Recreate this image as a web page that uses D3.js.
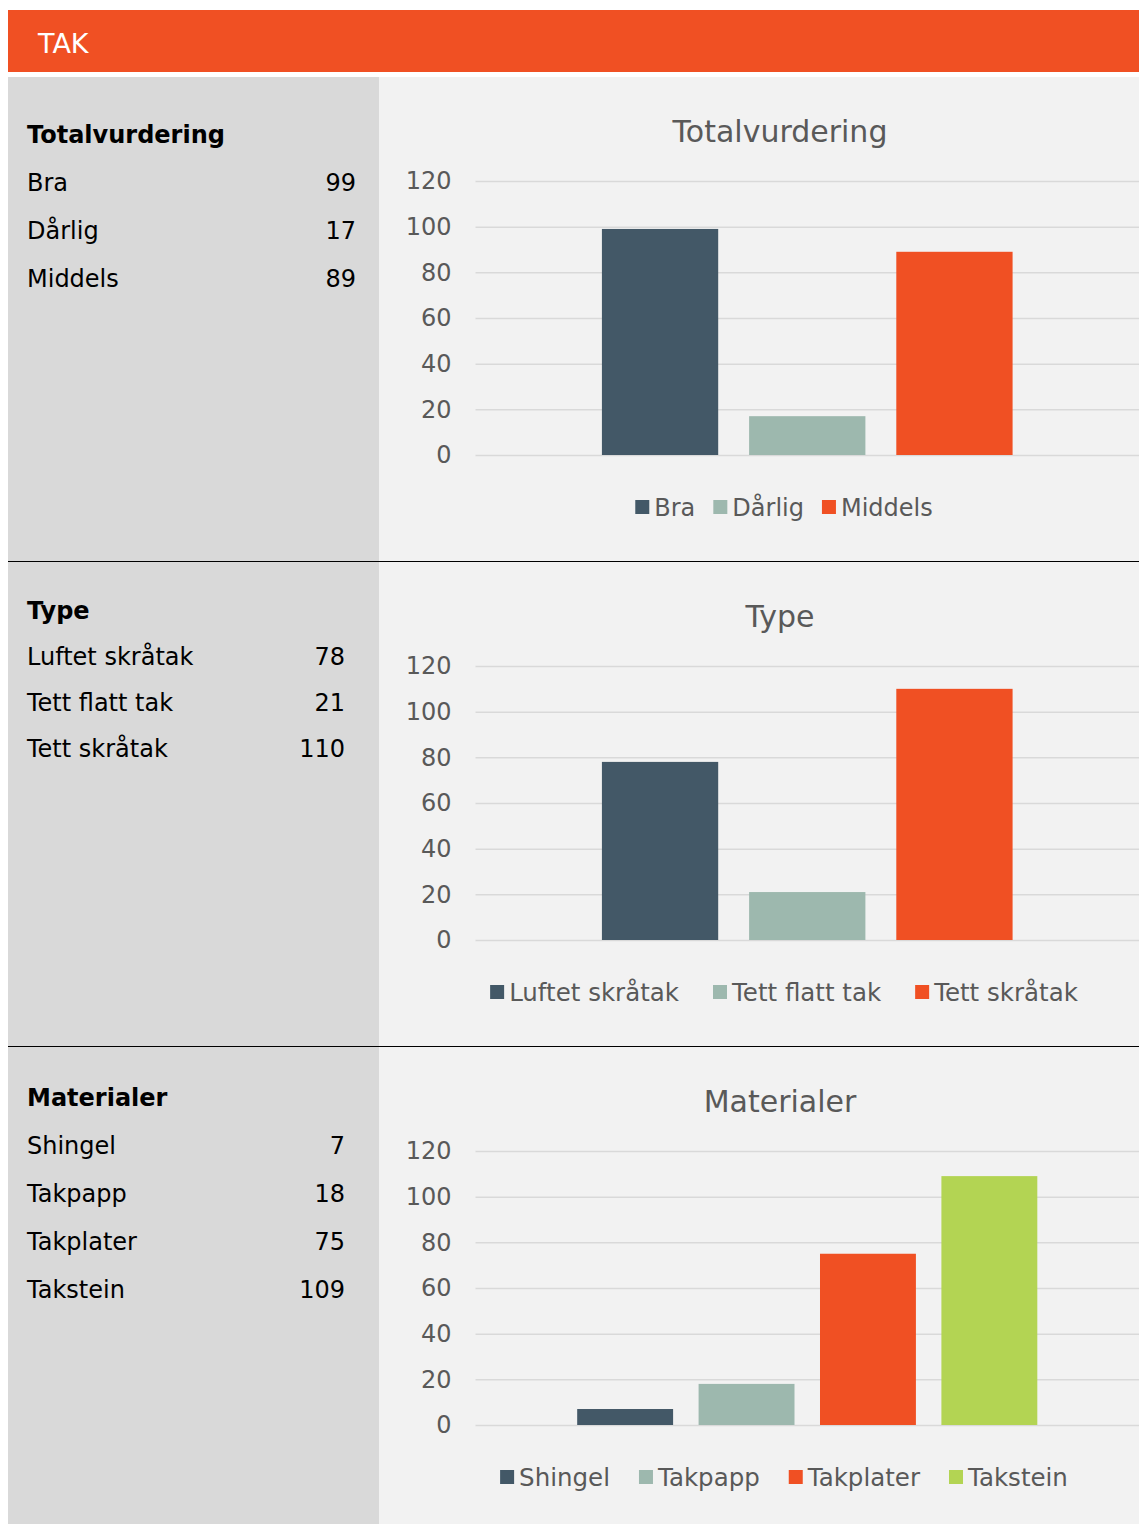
<!DOCTYPE html>
<html>
<head>
<meta charset="utf-8">
<script src="https://cdn.jsdelivr.net/npm/d3@7"></script>
<style>
  html, body { margin: 0; padding: 0; background: #ffffff; }
  svg { display: block; font-family: "DejaVu Sans", Verdana, sans-serif; }
</style>
</head>
<body>
<svg id="chart" width="1139" height="1524"></svg>
<script>
// ---- data ----
const pageTitle = "TAK";
const sectionTitles = ["Totalvurdering", "Type", "Materialer"];
const totalCategories = ["Bra", "Dårlig", "Middels"];
const totalValues = [99, 17, 89];
const typeCategories = ["Luftet skråtak", "Tett flatt tak", "Tett skråtak"];
const typeValues = [78, 21, 110];
const materialCategories = ["Shingel", "Takpapp", "Takplater", "Takstein"];
const materialValues = [7, 18, 75, 109];
const yTickValues = [0, 20, 40, 60, 80, 100, 120];
const seriesColors = ["#435867", "#9db8ae", "#f05023", "#b3d453"];

const sectionsData = [
  { title: sectionTitles[0], cats: totalCategories, vals: totalValues },
  { title: sectionTitles[1], cats: typeCategories, vals: typeValues },
  { title: sectionTitles[2], cats: materialCategories, vals: materialValues }
];

// ---- layout ----
const W = 1139, H = 1524;
const leftX = 8, splitX = 379;
const sectionTops = [76, 561, 1046];
const headBase = [143, 619, 1106];
const rowStep = [48, 46, 48];
const valueRight = [356, 345, 345];
const clusterPad = [0.3078, 0.3078, 0.221];
const legendGap = [18, 34, 29];
const legendFont = [24, 24.5, 24.5];
const plotL = 475.5, plotR = 1139;
const chartCenter = 780;

const svg = d3.select("#chart");

// header
svg.append("rect").attr("x", leftX).attr("y", 10).attr("width", W - leftX).attr("height", 62).attr("fill", "#f05023");
svg.append("text").attr("x", 38).attr("y", 53).attr("fill", "#ffffff").attr("font-size", 27).text(pageTitle);

// panels
svg.append("rect").attr("x", leftX).attr("y", 77).attr("width", splitX - leftX).attr("height", H - 77).attr("fill", "#d9d9d9");
svg.append("rect").attr("x", splitX).attr("y", 77).attr("width", W - splitX).attr("height", H - 77).attr("fill", "#f2f2f2");

sectionsData.forEach((sec, si) => {
  const top = sectionTops[si];

  // left panel summary
  svg.append("text").attr("x", 27).attr("y", headBase[si]).attr("font-size", 24)
    .attr("font-weight", "bold").attr("fill", "#000").text(sec.title);
  sec.cats.forEach((c, i) => {
    const yb = headBase[si] + rowStep[si] * (i + 1);
    svg.append("text").attr("x", 27).attr("y", yb).attr("font-size", 24).attr("fill", "#000").text(c);
    svg.append("text").attr("x", valueRight[si]).attr("y", yb).attr("font-size", 24)
      .attr("text-anchor", "end").attr("fill", "#000").text(sec.vals[i]);
  });

  // chart title
  svg.append("text").attr("x", chartCenter).attr("y", top + 66).attr("font-size", 30)
    .attr("text-anchor", "middle").attr("fill", "#595959").text(sec.title);

  // scales
  const y = d3.scaleLinear().domain([0, 120]).range([top + 379, top + 105]);
  const xOuter = d3.scaleBand().domain([sec.title]).range([plotL, plotR]).paddingInner(0).paddingOuter(clusterPad[si]);
  const xInner = d3.scaleBand().domain(sec.cats).range([0, xOuter.bandwidth()]).paddingInner(0.21).paddingOuter(0);

  // grid + ticks
  const ax = svg.append("g").attr("transform", `translate(${plotL},0)`)
    .call(d3.axisLeft(y).tickValues(yTickValues).tickSize(-(plotR - plotL)).tickPadding(24));
  ax.select(".domain").remove();
  ax.selectAll(".tick line").attr("stroke", "#d9d9d9").attr("stroke-width", 1.5);
  ax.selectAll(".tick text").attr("font-size", 24).attr("fill", "#595959")
    .attr("font-family", "DejaVu Sans, Verdana, sans-serif");

  // bars
  const cluster = svg.append("g").attr("transform", `translate(${xOuter(sec.title)},0)`);
  cluster.selectAll("rect").data(sec.cats).join("rect")
    .attr("x", d => xInner(d))
    .attr("width", xInner.bandwidth())
    .attr("y", (d, i) => y(sec.vals[i]))
    .attr("height", (d, i) => y(0) - y(sec.vals[i]))
    .attr("fill", (d, i) => seriesColors[i]);

  // legend
  const lg = svg.append("g");
  const legY = top + 431;
  let cx = 0;
  const items = [];
  sec.cats.forEach((c, i) => {
    const it = lg.append("g");
    it.append("rect").attr("x", 0).attr("y", -7).attr("width", 14).attr("height", 14).attr("fill", seriesColors[i]);
    const t = it.append("text").attr("x", 19).attr("y", 8.5).attr("font-size", legendFont[si]).attr("fill", "#595959").text(c);
    const w = 19 + t.node().getComputedTextLength();
    items.push({ it, x: cx });
    cx += w + legendGap[si];
  });
  const totalW = cx - legendGap[si];
  const startX = chartCenter + 4 - totalW / 2;
  items.forEach(o => o.it.attr("transform", `translate(${startX + o.x},${legY})`));

  // separator
  if (si > 0) {
    svg.append("line").attr("x1", leftX).attr("x2", W).attr("y1", top + 0.5).attr("y2", top + 0.5)
      .attr("stroke", "#000").attr("stroke-width", 1);
  }
});
</script>
</body>
</html>
